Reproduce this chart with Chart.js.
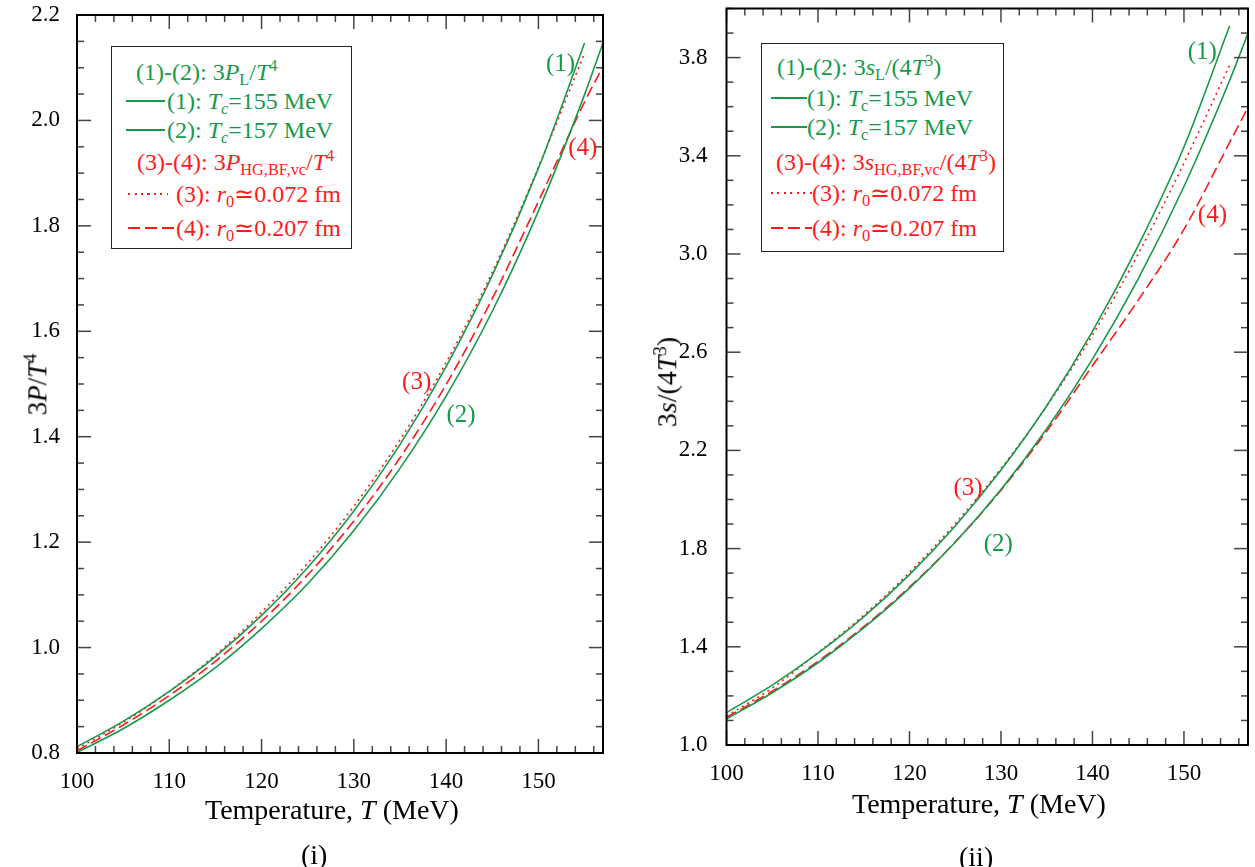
<!DOCTYPE html>
<html>
<head>
<meta charset="utf-8">
<script src="https://cdn.jsdelivr.net/npm/chart.js@4"></script>
<style>
  body { margin: 0; background: #fff; width: 1255px; height: 867px; overflow: hidden; position: relative;
         font-family: "Liberation Serif", "Times New Roman", serif; color: #000; }
  .wrap { position: absolute; top: 0; height: 867px; }
  .txt { position: absolute; white-space: nowrap; line-height: 1; }
  sub, sup { font-size: 0.68em; line-height: 0; position: relative; vertical-align: baseline; }
  sub { top: 0.3em; }
  sup { top: -0.55em; }
  .box { position: absolute; border: 1.5px solid #222; background: #fff; }
  .sample { position: absolute; height: 2px; }
</style>
</head>
<body>
<div class="wrap" id="w1" style="left:0;width:627px"><canvas id="c1" width="627" height="867"></canvas></div>
<div class="wrap" id="w2" style="left:627px;width:628px"><canvas id="c2" width="628" height="867"></canvas></div>
<script>
const GREEN = '#17994a';
const RED = '#ff1a1a';

// temperatures (MeV)
const temps = [100, 105, 110, 115, 120, 125, 130, 135, 140, 145, 150, 155];
const temps157 = [100, 105, 110, 115, 120, 125, 130, 135, 140, 145, 150, 155, 157];

// tick labels
const xTicks = [100, 110, 120, 130, 140, 150];
const yTicksP = [0.8, 1.0, 1.2, 1.4, 1.6, 1.8, 2.0, 2.2];
const yTicksS = [1.0, 1.4, 1.8, 2.2, 2.6, 3.0, 3.4, 3.8];

// panel (i): 3P/T^4
const pL155 = [0.812, 0.860, 0.917, 0.983, 1.061, 1.152, 1.259, 1.385, 1.533, 1.706, 1.909, 2.147];
const pL157 = [0.801, 0.846, 0.900, 0.962, 1.036, 1.121, 1.222, 1.340, 1.477, 1.638, 1.828, 2.049, 2.147];
const pHG072 = [0.808, 0.858, 0.917, 0.986, 1.067, 1.160, 1.268, 1.394, 1.541, 1.712, 1.911, 2.128];
const pHG207 = [0.804, 0.853, 0.909, 0.974, 1.050, 1.138, 1.240, 1.360, 1.499, 1.662, 1.846, 2.035, 2.102];

// panel (ii): 3s/(4T^3)
const sL155 = [1.132, 1.244, 1.374, 1.522, 1.694, 1.892, 2.120, 2.382, 2.685, 3.034, 3.436, 3.930];
const sL157 = [1.106, 1.213, 1.335, 1.477, 1.639, 1.826, 2.041, 2.288, 2.572, 2.899, 3.275, 3.708, 3.899];
const sHG072 = [1.118, 1.232, 1.376, 1.529, 1.703, 1.902, 2.126, 2.380, 2.670, 3.000, 3.370, 3.770];
const sHG207 = [1.112, 1.219, 1.341, 1.482, 1.643, 1.827, 2.038, 2.278, 2.545, 2.812, 3.100, 3.455, 3.597];

// curve labels, placed in data coordinates
const curveLabelsP = [
  { t: 152.4, v: 2.110, text: '(1)', color: GREEN },
  { t: 154.8, v: 1.951, text: '(4)', color: RED },
  { t: 136.8, v: 1.507, text: '(3)', color: RED },
  { t: 141.6, v: 1.444, text: '(2)', color: GREEN }
];
const curveLabelsS = [
  { t: 152.0, v: 3.827, text: '(1)', color: GREEN },
  { t: 153.1, v: 3.163, text: '(4)', color: RED },
  { t: 126.4, v: 2.051, text: '(3)', color: RED },
  { t: 129.7, v: 1.823, text: '(2)', color: GREEN }
];

function pts(xs, ys) {
  return ys.map((v, i) => ({ x: xs[i], y: v }));
}

function ds(xs, ys, color, dash) {
  return {
    data: pts(xs, ys),
    borderColor: color,
    borderWidth: 1.6,
    borderDash: dash,
    pointRadius: 0,
    fill: false,
    cubicInterpolationMode: 'monotone'
  };
}

// inward ticks on all four sides plus the frame
const frameTicks = {
  id: 'frameTicks',
  afterDraw(chart, args, opts) {
    const { ctx, chartArea: a, scales: { x, y } } = chart;
    ctx.save();
    ctx.strokeStyle = '#444';
    ctx.lineWidth = 1.5;
    const seg = (x0, y0, x1, y1) => { ctx.beginPath(); ctx.moveTo(x0, y0); ctx.lineTo(x1, y1); ctx.stroke(); };
    const nx = Math.floor((x.max - x.min) / opts.xMinor + 1e-6);
    for (let i = 0; i <= nx; i++) {
      const px = x.getPixelForValue(x.min + i * opts.xMinor);
      const len = i % opts.xEvery === 0 ? 14 : 7;
      seg(px, a.bottom, px, a.bottom - len);
      seg(px, a.top, px, a.top + len);
    }
    const ny = Math.floor((y.max - y.min) / opts.yMinor + 1e-6);
    for (let i = 0; i <= ny; i++) {
      const py = y.getPixelForValue(y.min + i * opts.yMinor);
      const len = i % opts.yEvery === 0 ? 14 : 7;
      seg(a.left, py, a.left + len, py);
      seg(a.right, py, a.right - len, py);
    }
    ctx.strokeStyle = '#000';
    ctx.lineWidth = 2;
    ctx.strokeRect(a.left, a.top, a.right - a.left, a.bottom - a.top);
    ctx.restore();
  }
};

function makeChart(id, datasets, yMin, yMax, yTicks, box, ticks) {
  const font = { family: '"Liberation Serif", "Times New Roman", serif', size: 23 };
  return new Chart(document.getElementById(id), {
    type: 'line',
    data: { datasets: datasets },
    plugins: [frameTicks],
    options: {
      responsive: false,
      animation: false,
      layout: { padding: { top: box.top, right: box.right, left: 0, bottom: 0 } },
      plugins: { legend: { display: false }, tooltip: { enabled: false }, frameTicks: ticks },
      scales: {
        x: {
          type: 'linear', min: 100, max: 157,
          grid: { display: false }, border: { display: false },
          ticks: { color: '#000', font: font, padding: 7, maxRotation: 0 },
          afterBuildTicks: (s) => { s.ticks = xTicks.map((v) => ({ value: v })); },
          afterFit: (s) => { s.height = box.xh; s.paddingLeft = 0; s.paddingRight = 0; }
        },
        y: {
          type: 'linear', min: yMin, max: yMax,
          grid: { display: false }, border: { display: false },
          ticks: { color: '#000', font: font, padding: box.ypad, callback: (v) => Number(v).toFixed(1) },
          afterBuildTicks: (s) => { s.ticks = yTicks.map((v) => ({ value: v })); },
          afterFit: (s) => { s.width = box.yw; s.paddingTop = 0; s.paddingBottom = 0; }
        }
      }
    }
  });
}

const chart1 = makeChart('c1', [
  ds(temps, pL155, GREEN),
  ds(temps157, pL157, GREEN),
  ds(temps, pHG072, RED, [2, 4]),
  ds(temps157, pHG207, RED, [11, 5])
], 0.8, 2.2, yTicksP, { top: 15, right: 24, yw: 77, xh: 114, ypad: 9 }, { xMinor: 2, xEvery: 5, yMinor: 0.05, yEvery: 4 });

const chart2 = makeChart('c2', [
  ds(temps, sL155, GREEN),
  ds(temps157, sL157, GREEN),
  ds(temps, sHG072, RED, [2, 4]),
  ds(temps157, sHG207, RED, [11, 5])
], 1.0, 4.0, yTicksS, { top: 8.5, right: 7, yw: 99.5, xh: 122, ypad: 11 }, { xMinor: 2, xEvery: 5, yMinor: 0.1, yEvery: 4 });

function addText(html, left, top, opts) {
  const d = document.createElement('div');
  d.className = 'txt';
  d.innerHTML = html;
  d.style.left = left + 'px';
  d.style.top = top + 'px';
  d.style.fontSize = (opts.size || 24) + 'px';
  if (opts.color) d.style.color = opts.color;
  document.body.appendChild(d);
  if (opts.center) d.style.left = (left - d.offsetWidth / 2) + 'px';
  if (opts.middle) d.style.top = (top - d.offsetHeight / 2) + 'px';
  if (opts.rotate) {
    d.style.transformOrigin = 'center center';
    d.style.transform = 'rotate(-90deg)';
  }
  return d;
}

function placeCurveLabels(chart, offsetX, labels) {
  labels.forEach((l) => {
    const px = chart.scales.x.getPixelForValue(l.t) + offsetX;
    const py = chart.scales.y.getPixelForValue(l.v);
    addText(l.text, px, py, { size: 25, color: l.color, center: true, middle: true });
  });
}
placeCurveLabels(chart1, 0, curveLabelsP);
placeCurveLabels(chart2, 627, curveLabelsS);

// legend line samples: [on, off] pattern in px, null = solid
function sampleBg(color, pattern) {
  if (!pattern) return color;
  return 'repeating-linear-gradient(to right, ' + color + ' 0 ' + pattern[0] + 'px, transparent ' +
    pattern[0] + 'px ' + (pattern[0] + pattern[1]) + 'px)';
}

function legend(box, rows) {
  const b = document.createElement('div');
  b.className = 'box';
  b.style.left = box.x + 'px'; b.style.top = box.y + 'px';
  b.style.width = box.w + 'px'; b.style.height = box.h + 'px';
  document.body.appendChild(b);
  rows.forEach((r) => {
    if (r.line) {
      const s = document.createElement('div');
      s.className = 'sample';
      s.style.left = r.line[0] + 'px';
      s.style.width = (r.line[1] - r.line[0]) + 'px';
      s.style.top = (r.y - 1) + 'px';
      s.style.background = sampleBg(r.color, r.dash);
      document.body.appendChild(s);
    }
    addText(r.html, r.x, r.y, { color: r.color, middle: true });
  });
}

legend({ x: 111, y: 46, w: 239, h: 201 }, [
  { x: 136, y: 72, color: GREEN, html: '(1)-(2): 3<i>P</i><sub>L</sub>/<i>T</i><sup>4</sup>' },
  { x: 167, y: 101, color: GREEN, line: [126, 165], html: '(1): <i>T</i><sub><i>c</i></sub>=155 MeV' },
  { x: 167, y: 130, color: GREEN, line: [126, 165], html: '(2): <i>T</i><sub><i>c</i></sub>=157 MeV' },
  { x: 137, y: 162, color: RED, html: '(3)-(4): 3<i>P</i><sub>HG,BF,vc</sub>/<i>T</i><sup>4</sup>' },
  { x: 176, y: 194, color: RED, line: [128, 168], dash: [2, 4.5], html: '(3): <i>r</i><sub>0</sub>≃0.072 fm' },
  { x: 176, y: 228, color: RED, line: [128, 175], dash: [12, 5], html: '(4): <i>r</i><sub>0</sub>≃0.207 fm' }
]);

legend({ x: 761, y: 43, w: 241, h: 207 }, [
  { x: 777, y: 67, color: GREEN, html: '(1)-(2): 3<i>s</i><sub>L</sub>/(4<i>T</i><sup>3</sup>)' },
  { x: 807, y: 98, color: GREEN, line: [771, 807], html: '(1): <i>T</i><sub>c</sub>=155 MeV' },
  { x: 807, y: 127, color: GREEN, line: [771, 807], html: '(2): <i>T</i><sub>c</sub>=157 MeV' },
  { x: 776, y: 162, color: RED, html: '(3)-(4): 3<i>s</i><sub>HG,BF,vc</sub>/(4<i>T</i><sup>3</sup>)' },
  { x: 812, y: 193, color: RED, line: [771, 812], dash: [2, 4.5], html: '(3): <i>r</i><sub>0</sub>≃0.072 fm' },
  { x: 812, y: 228, color: RED, line: [771, 812], dash: [12, 5], html: '(4): <i>r</i><sub>0</sub>≃0.207 fm' }
]);

// axis titles and panel labels
addText('Temperature, <i>T</i> (MeV)', 332, 810, { size: 28, center: true, middle: true });
addText('Temperature, <i>T</i> (MeV)', 979, 804, { size: 28, center: true, middle: true });
addText('3<i>P</i>/<i>T</i><sup>4</sup>', 38, 384, { size: 27, center: true, middle: true, rotate: true });
addText('3<i>s</i>/(4<i>T</i><sup>3</sup>)', 667, 382, { size: 28, center: true, middle: true, rotate: true });
addText('(i)', 314, 855, { size: 28, center: true, middle: true });
addText('(ii)', 976, 857, { size: 28, center: true, middle: true });
</script>
</body>
</html>
